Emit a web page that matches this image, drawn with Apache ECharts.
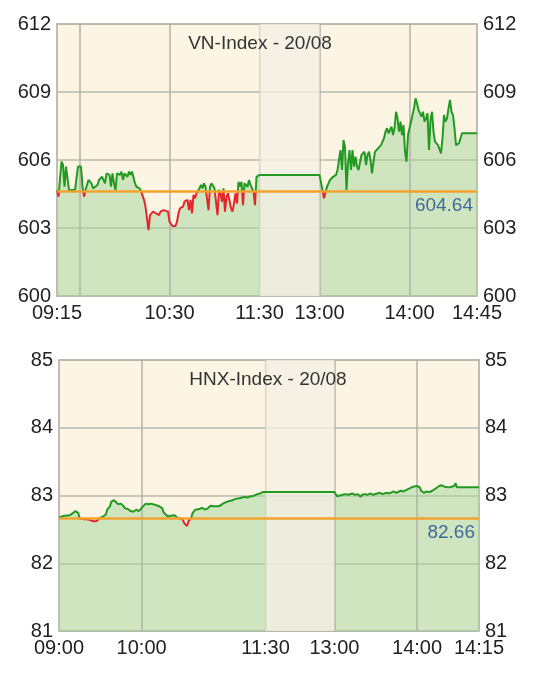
<!DOCTYPE html>
<html><head><meta charset="utf-8">
<script src="https://cdn.jsdelivr.net/npm/echarts@6/dist/echarts.min.js"></script>
<style>html,body{margin:0;padding:0;background:#fff}#c{width:543px;height:678px}</style>
</head><body><div id="c"></div>
<script>
// ---------- VN-Index ----------
const vnTitle = 'VN-Index - 20/08';
const vnRef = 604.64;
const vnTimes = ["09:15","09:16","09:18","09:19","09:20","09:21","09:23","09:24","09:25","09:26","09:27","09:29","09:30","09:31","09:32","09:33","09:34","09:36","09:38","09:39","09:40","09:42","09:43","09:45","09:47","09:48","09:50","09:51","09:52","09:53","09:54","09:55","09:57","09:58","09:59","10:00","10:02","10:03","10:04","10:05","10:07","10:08","10:09","10:10","10:11","10:13","10:14","10:15","10:16","10:17","10:18","10:19","10:21","10:23","10:24","10:26","10:29","10:30","10:32","10:34","10:35","10:36","10:37","10:39","10:40","10:41","10:42","10:43","10:44","10:45","10:46","10:47","10:48","10:50","10:51","10:52","10:53","10:54","10:55","10:56","10:57","10:58","11:00","11:01","11:02","11:03","11:04","11:05","11:06","11:07","11:08","11:09","11:11","11:12","11:13","11:14","11:15","11:16","11:17","11:18","11:19","11:20","11:22","11:23","11:24","11:25","11:26","11:27","11:28","11:29","11:30",
"13:00","13:02","13:03","13:04","13:05","13:07","13:08","13:09","13:10","13:11","13:12","13:13","13:14","13:15","13:16","13:17","13:18","13:19","13:20","13:21","13:22","13:23","13:24","13:25","13:26","13:28","13:30","13:31","13:32","13:33","13:34","13:35","13:36","13:37","13:39","13:40","13:41","13:42","13:43","13:44","13:45","13:46","13:48","13:49","13:50","13:51","13:52","13:53","13:54","13:55","13:56","13:57","13:58","13:59","14:00","14:01","14:02","14:03","14:04","14:05","14:06","14:07","14:08","14:09","14:10","14:11","14:12","14:13","14:14","14:15","14:16","14:17","14:18","14:19","14:20","14:21","14:22","14:23","14:24","14:25","14:26","14:27","14:28","14:29","14:30","14:31","14:32","14:33","14:34","14:35","14:45"];
const vnValues = [604.68,604.38,605.93,605.78,604.82,605.71,604.68,604.60,604.68,604.60,604.68,605.71,605.63,605.71,604.82,604.38,604.68,605.12,604.97,604.75,604.68,604.90,605.12,605.26,604.97,605.41,605.34,604.82,605.41,604.97,604.68,605.41,605.34,605.49,605.12,605.41,605.26,605.49,605.34,605.49,604.97,604.82,604.82,604.75,604.64,604.24,603.94,604.01,602.91,603.57,603.50,603.72,603.65,603.57,603.72,603.79,603.72,603.28,603.09,603.09,603.28,603.65,603.87,603.94,604.16,604.08,604.24,603.79,604.24,603.65,604.46,604.31,604.53,604.75,604.90,604.75,604.97,604.82,604.90,603.79,604.82,604.97,604.75,604.82,603.57,604.68,604.53,604.16,604.75,603.72,604.38,604.53,603.87,603.72,604.08,604.53,604.08,605.04,604.82,605.04,604.01,604.97,604.82,605.12,604.90,604.97,604.60,604.01,605.26,605.34,605.34,
605.34,604.68,604.31,604.38,604.82,605.12,605.19,605.26,605.19,605.34,605.56,606.00,606.44,605.56,606.88,606.59,604.68,605.85,606.44,605.56,606.44,605.71,606.15,605.71,605.56,606.22,606.37,605.78,606.22,606.37,606.00,605.41,605.93,606.37,606.51,606.59,606.66,606.81,606.96,607.25,607.40,607.18,607.47,607.10,607.40,608.13,607.84,607.25,607.69,607.10,607.54,606.37,605.93,607.10,607.40,607.69,607.99,608.28,608.72,608.50,608.21,608.28,607.91,608.13,607.69,607.84,608.06,606.44,607.76,608.13,607.25,606.81,606.74,606.66,606.59,606.29,606.96,607.99,607.69,607.84,608.28,608.65,608.13,607.99,607.40,606.66,606.59,606.74,606.81,607.18,607.18];
const vnYMin = 600, vnYMax = 612, vnYStep = 3;
const vnTickTimes = ["09:15","10:30","11:30","13:00","14:00","14:45"];
const vnTickLabels = ["09:15","10:30","11:30","13:00","14:00","14:45"];
const vnGridTimes = ["09:30","10:30","11:30","13:00","14:00"];

// ---------- HNX-Index ----------
const hnxTitle = 'HNX-Index - 20/08';
const hnxRef = 82.66;
const hnxTimes = ["09:00","09:02","09:04","09:08","09:10","09:12","09:14","09:15","09:18","09:20","09:22","09:25","09:27","09:28","09:30","09:32","09:34","09:35","09:37","09:38","09:40","09:41","09:43","09:45","09:47","09:48","09:50","09:52","09:54","09:56","09:58","09:59","10:01","10:03","10:05","10:07","10:10","10:12","10:15","10:16","10:17","10:19","10:21","10:22","10:24","10:26","10:28","10:30","10:31","10:33","10:34","10:36","10:37","10:39","10:40","10:42","10:44","10:46","10:48","10:50","10:52","10:53","10:55","10:57","10:59","11:01","11:02","11:04","11:06","11:08","11:09","11:11","11:13","11:15","11:17","11:19","11:21","11:22","11:24","11:26","11:28","11:30",
"13:00","13:02","13:04","13:06","13:08","13:10","13:11","13:13","13:15","13:17","13:19","13:20","13:22","13:24","13:26","13:28","13:31","13:33","13:35","13:38","13:40","13:43","13:45","13:48","13:50","13:52","13:55","13:57","14:00","14:02","14:03","14:05","14:07","14:09","14:11","14:12","14:14","14:16","14:18","14:20","14:21","14:23","14:25","14:27","14:28","14:29","14:31","14:34","14:45"];
const hnxValues = [82.67,82.69,82.70,82.71,82.74,82.77,82.74,82.66,82.65,82.65,82.64,82.62,82.62,82.64,82.67,82.69,82.72,82.79,82.84,82.91,82.93,82.91,82.87,82.88,82.84,82.81,82.80,82.77,82.76,82.79,82.77,82.75,82.84,82.88,82.87,82.88,82.86,82.85,82.81,82.75,82.74,82.69,82.70,82.70,82.71,82.67,82.66,82.64,82.59,82.55,82.62,82.67,82.74,82.79,82.81,82.80,82.82,82.79,82.81,82.85,82.84,82.82,82.84,82.85,82.88,82.90,82.88,82.92,82.93,82.95,82.96,82.96,82.97,82.98,82.97,82.99,82.99,83.01,83.02,83.03,83.05,83.05,
83.05,82.99,83.00,83.01,83.02,83.01,83.02,83.03,83.01,83.02,82.98,83.01,83.02,83.01,83.03,83.01,83.03,83.04,83.02,83.04,83.03,83.06,83.04,83.07,83.06,83.08,83.11,83.13,83.14,83.12,83.07,83.04,83.06,83.05,83.07,83.08,83.11,83.14,83.15,83.13,83.11,83.12,83.13,83.14,83.18,83.12,83.12,83.12,83.12];
const hnxYMin = 81, hnxYMax = 85, hnxYStep = 1;
const hnxTickTimes = ["09:00","10:00","11:30","13:00","14:00","14:45"];
const hnxTickLabels = ["09:00","10:00","11:30","13:00","14:00","14:15"];
const hnxGridTimes = ["10:00","11:30","13:00","14:00"];

// ---------- helpers ----------
function toMin(t){ const p = t.split(':').map(Number); return p[0]*60 + p[1]; }
function sessionMapper(open, lunchUnits){
  const o = toMin(open), ls = toMin('11:30'), le = toMin('13:00');
  return t => { const m = toMin(t); return m <= ls ? m - o : (ls - o) + lunchUnits + (m - le); };
}
const FONT = '"Liberation Sans", Arial, sans-serif';
const GREEN = '#229a22', RED = '#e3262a';

function buildPanel(idx, cfg){
  const map = sessionMapper(cfg.open, cfg.lunch);
  const xMax = map(cfg.end);
  const pts = cfg.times.map((t,i)=>[map(t), cfg.values[i]]);
  const labelByPos = {};
  cfg.tickTimes.forEach((t,i)=>{ labelByPos[map(t)] = cfg.tickLabels[i]; });
  const xAxis = {
    type:'value', gridIndex: idx, min:0, max:xMax,
    axisLine:{show:false}, axisTick:{show:false}, splitLine:{show:false},
    axisLabel:{ customValues: cfg.tickTimes.map(map), formatter: v => labelByPos[v] || '',
      color:'#222', fontSize:20, fontFamily:FONT, margin:7, showMinLabel:true, showMaxLabel:true, hideOverlap:false }
  };
  const yCommon = { type:'value', gridIndex: idx, min:cfg.yMin, max:cfg.yMax, interval:cfg.yStep,
    axisLine:{show:false}, axisTick:{show:false} };
  const yAxes = [
    Object.assign({}, yCommon, { position:'left', splitLine:{show:true, lineStyle:{color:'#b9b7ae', width:1.5}},
      axisLabel:{color:'#222', fontSize:20, fontFamily:FONT, margin:6} }),
    Object.assign({}, yCommon, { position:'right', splitLine:{show:false},
      axisLabel:{color:'#222', fontSize:20, fontFamily:FONT, margin:6} })
  ];
  const series = [
    { type:'line', xAxisIndex:idx, yAxisIndex:idx*2, data:pts, showSymbol:false, z:1, silent:true,
      lineStyle:{width:0, opacity:0}, areaStyle:{color:'#a1d59a', opacity:0.5, origin:'start'},
      markLine:{ symbol:'none', silent:true, animation:false, z:2,
        data: cfg.gridTimes.map(t=>({ xAxis: map(t), lineStyle:{color:'#b3b1a8', width:1.5, type:'solid'}, label:{show:false} })) } },
    { type:'line', xAxisIndex:idx, yAxisIndex:idx*2, data:[], z:3, silent:true,
      markArea:{ silent:true, z:3, itemStyle:{color:'rgba(244,240,228,0.78)'},
        data:[[{xAxis: map('11:30')},{xAxis: map('13:00')}]] } },
    { type:'line', xAxisIndex:idx, yAxisIndex:idx*2, data:pts, showSymbol:false, z:4,
      lineStyle:{width:2},
      markLine:{ symbol:'none', silent:true, animation:false, z:5,
        data:[{ yAxis: cfg.ref, lineStyle:{color:'#f2a22c', width:2.5, type:'solid'},
          label:{show:true, position:'insideEndBottom', formatter: cfg.ref.toFixed(2), color:'#3f6a9c', fontSize:19, fontFamily:FONT, distance:[4,5]} }] } }
  ];
  const visualMap = { type:'piecewise', show:false, seriesIndex: idx*3+2, dimension:1,
    pieces:[{gte:cfg.yMin, lt:cfg.ref, color:RED},{gte:cfg.ref, lte:cfg.yMax, color:GREEN}] };
  return { xAxis, yAxes, series, visualMap };
}

const vnPanel = buildPanel(0, { open:'09:15', lunch:40, end:'14:45', times:vnTimes, values:vnValues, ref:vnRef,
  yMin:vnYMin, yMax:vnYMax, yStep:vnYStep, tickTimes:vnTickTimes, tickLabels:vnTickLabels, gridTimes:vnGridTimes });
const hnxPanel = buildPanel(1, { open:'09:00', lunch:50, end:'14:45', times:hnxTimes, values:hnxValues, ref:hnxRef,
  yMin:hnxYMin, yMax:hnxYMax, yStep:hnxYStep, tickTimes:hnxTickTimes, tickLabels:hnxTickLabels, gridTimes:hnxGridTimes });

const chart = echarts.init(document.getElementById('c'), null, {renderer:'canvas'});
chart.setOption({
  animation:false,
  backgroundColor:'#ffffff',
  title:[
    { text:vnTitle, left:255, top:29, textAlign:'center', textStyle:{color:'#333', fontSize:19, fontWeight:'normal', fontFamily:FONT} },
    { text:hnxTitle, left:263, top:365, textAlign:'center', textStyle:{color:'#333', fontSize:19, fontWeight:'normal', fontFamily:FONT} }
  ],
  grid:[
    { left:57, right:66, top:24, height:272, show:true, backgroundColor:'#fdf5e4', borderColor:'#aaa9a0', borderWidth:1.5 },
    { left:59, right:64, top:360, height:271, show:true, backgroundColor:'#fdf5e4', borderColor:'#aaa9a0', borderWidth:1.5 }
  ],
  xAxis:[vnPanel.xAxis, hnxPanel.xAxis],
  yAxis:[...vnPanel.yAxes, ...hnxPanel.yAxes],
  visualMap:[vnPanel.visualMap, hnxPanel.visualMap],
  series:[...vnPanel.series, ...hnxPanel.series]
});
</script></body></html>
